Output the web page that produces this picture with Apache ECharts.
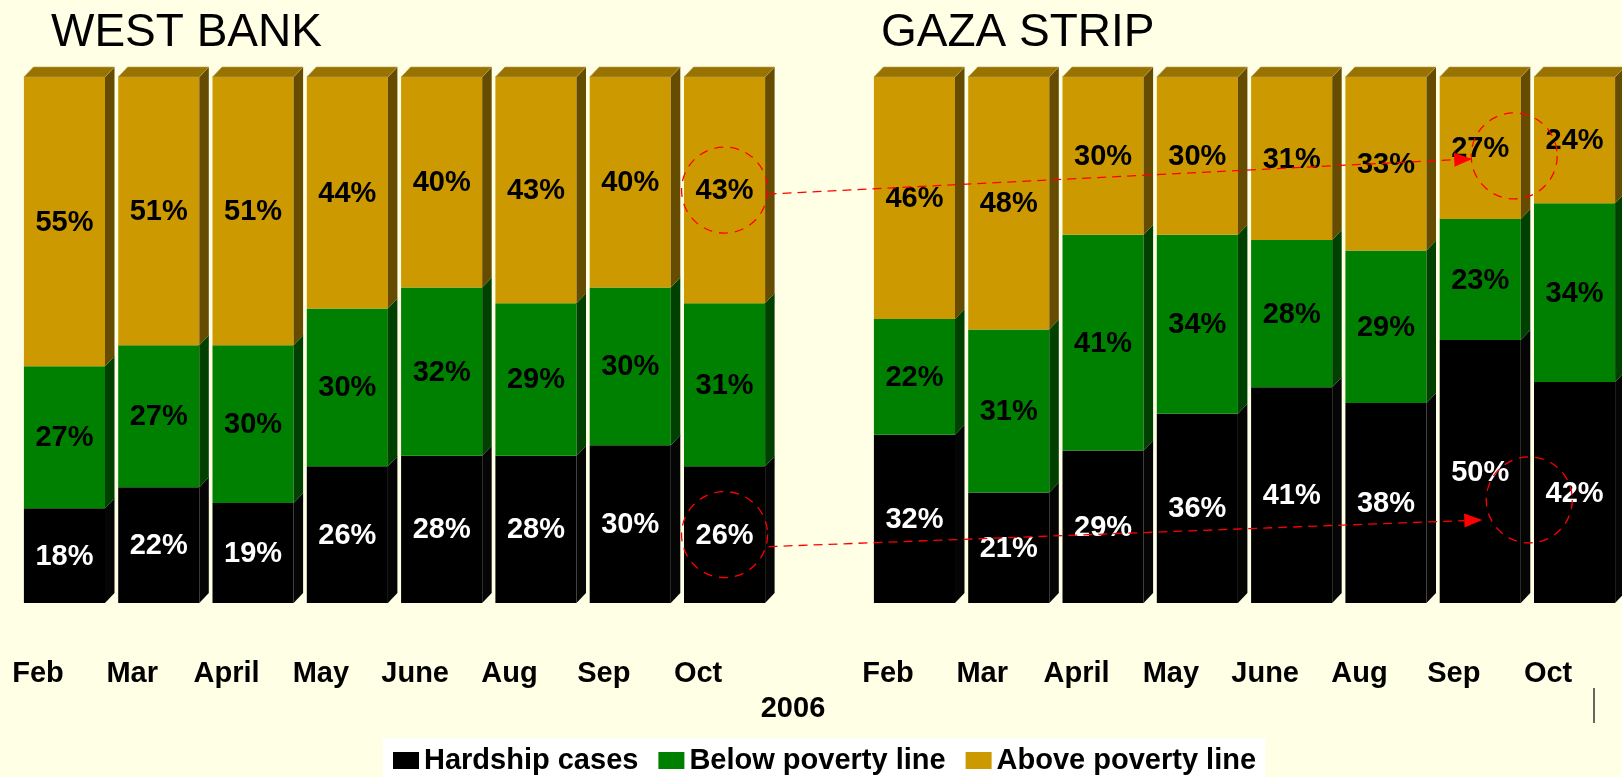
<!DOCTYPE html>
<html>
<head>
<meta charset="utf-8">
<title>West Bank / Gaza Strip 2006</title>
<script src="https://cdn.jsdelivr.net/npm/echarts@6.0.0/dist/echarts.min.js"></script>
<style>
  html, body { margin: 0; padding: 0; background: #FFFFE6; }
  #chart { width: 1622px; height: 777px; }
</style>
</head>
<body>
<div id="chart"></div>
<script>
// months (2006)
const months = ['Feb', 'Mar', 'April', 'May', 'June', 'Aug', 'Sep', 'Oct']

// West Bank, % of households
const wbHardship = [18, 22, 19, 26, 28, 28, 30, 26]
const wbBelow = [27, 27, 30, 30, 32, 29, 30, 31]
const wbAbove = [55, 51, 51, 44, 40, 43, 40, 43]

// Gaza Strip, % of households
const gzHardship = [32, 21, 29, 36, 41, 38, 50, 42]
const gzBelow = [22, 31, 41, 34, 28, 29, 23, 34]
const gzAbove = [46, 48, 30, 30, 31, 33, 27, 24]

const FONT = '"Liberation Sans", Arial, sans-serif'
const DX = 9.5 // depth of the fake 3d
const DY = 10

const styles = {
  'Hardship cases': { front: '#000000', side: '#050505', top: '#333333', text: '#ffffff' },
  'Below poverty line': { front: '#008000', side: '#004000', top: '#006600', text: '#000000' },
  'Above poverty line': { front: '#CC9900', side: '#664C00', top: '#997300', text: '#000000' }
}

// 3d-ish bar segment
function makeRender (st) {
  return function (params, api) {
    const idx = api.value(0)
    const base = api.value(1)
    const val = api.value(2)
    const isTop = api.value(3)
    const p0 = api.coord([idx, base])
    const p1 = api.coord([idx, base + val])
    const w = api.size([1, 0])[0] * 0.86
    const x0 = p0[0] - w / 2
    const x1 = x0 + w
    const children = [
      {
        type: 'rect',
        shape: { x: x0, y: p1[1], width: w, height: p0[1] - p1[1] },
        style: { fill: st.front }
      },
      {
        type: 'polygon',
        shape: { points: [[x1, p0[1]], [x1 + DX, p0[1] - DY], [x1 + DX, p1[1] - DY], [x1, p1[1]]] },
        style: { fill: st.side }
      }
    ]
    if (isTop) {
      children.push({
        type: 'polygon',
        shape: { points: [[x0, p1[1]], [x0 + DX, p1[1] - DY], [x1 + DX, p1[1] - DY], [x1, p1[1]]] },
        style: { fill: st.top, stroke: '#B8A060', lineWidth: 0.6 }
      })
    }
    children.push({
      type: 'text',
      style: {
        text: val + '%',
        x: p0[0],
        y: (p0[1] + p1[1]) / 2 + 1,
        fill: st.text,
        font: 'bold 29px ' + FONT,
        align: 'center',
        verticalAlign: 'middle'
      },
      z2: 10
    })
    return { type: 'group', children: children }
  }
}

function buildSeries (gridIdx, hardship, below, above) {
  const parts = [
    ['Hardship cases', hardship, () => 0, 0],
    ['Below poverty line', below, i => hardship[i], 0],
    ['Above poverty line', above, i => hardship[i] + below[i], 1]
  ]
  return parts.map(([name, arr, baseFn, top]) => ({
    name: name,
    type: 'custom',
    xAxisIndex: gridIdx,
    yAxisIndex: gridIdx,
    itemStyle: { color: styles[name].front },
    renderItem: makeRender(styles[name]),
    encode: { x: 0, y: [1, 2] },
    data: arr.map((v, i) => [i, baseFn(i), v, top])
  }))
}

const axisLabel = {
  fontSize: 29,
  fontWeight: 'bold',
  fontFamily: FONT,
  color: '#000',
  margin: 56,
  padding: [0, 53, 0, 0],
  interval: 0
}

const chart = echarts.init(document.getElementById('chart'))
const option = {
  backgroundColor: '#FFFFE6',
  animation: false,
  title: [
    { text: 'WEST BANK', left: 51, top: 10, padding: 0, textStyle: { fontSize: 46, fontWeight: 'normal', fontFamily: FONT, color: '#000' } },
    { text: 'GAZA STRIP', left: 881, top: 10, padding: 0, textStyle: { fontSize: 46, fontWeight: 'normal', fontFamily: FONT, color: '#000' } }
  ],
  legend: {
    data: ['Hardship cases', 'Below poverty line', 'Above poverty line'],
    left: 383,
    top: 738,
    backgroundColor: '#ffffff',
    padding: [8, 9, 8, 10],
    itemGap: 20,
    itemWidth: 26,
    itemHeight: 17,
    icon: 'rect',
    selectedMode: false,
    textStyle: { fontSize: 29, fontWeight: 'bold', fontFamily: FONT, color: '#000' }
  },
  grid: [
    { left: 17.3, width: 754.4, top: 77, height: 526 },
    { left: 867.3, width: 754.4, top: 77, height: 526 }
  ],
  xAxis: [
    { type: 'category', gridIndex: 0, data: months, axisLine: { show: false }, axisTick: { show: false }, axisLabel: axisLabel },
    { type: 'category', gridIndex: 1, data: months, axisLine: { show: false }, axisTick: { show: false }, axisLabel: axisLabel }
  ],
  yAxis: [
    { type: 'value', gridIndex: 0, min: 0, max: 100, show: false },
    { type: 'value', gridIndex: 1, min: 0, max: 100, show: false }
  ],
  series: [
    ...buildSeries(0, wbHardship, wbBelow, wbAbove),
    ...buildSeries(1, gzHardship, gzBelow, gzAbove)
  ]
}
chart.setOption(option)

// red dashed circles + arrows, placed from the axes
function px (grid, idx, v) {
  const i0 = Math.floor(idx)
  const a = chart.convertToPixel({ gridIndex: grid }, [i0, v])
  if (idx === i0) return a
  const b = chart.convertToPixel({ gridIndex: grid }, [i0 + 1, v])
  const t = idx - i0
  return [a[0] + (b[0] - a[0]) * t, a[1]]
}
const R = 43
const wbTop = px(0, 7, wbHardship[7] + wbBelow[7] + wbAbove[7] / 2)
const wbBot = px(0, 7, wbHardship[7] / 2)
const gzTop = px(1, 6.36, 85)
const gzBot = px(1, 6.52, 19.6)

function circle (c) {
  return {
    type: 'circle',
    shape: { cx: c[0], cy: c[1], r: R },
    style: { fill: 'none', stroke: '#FF0000', lineWidth: 1.3, lineDash: [9, 7] },
    z: 50
  }
}
function arrow (from, to) {
  const ang = Math.atan2(to[1] - from[1], to[0] - from[0])
  const len = 18
  const hw = 7
  const bx = to[0] - len * Math.cos(ang)
  const by = to[1] - len * Math.sin(ang)
  const nx = -Math.sin(ang) * hw
  const ny = Math.cos(ang) * hw
  return [
    {
      type: 'line',
      shape: { x1: from[0], y1: from[1], x2: bx, y2: by },
      style: { stroke: '#FF0000', lineWidth: 1.3, lineDash: [9, 6] },
      z: 50
    },
    {
      type: 'polygon',
      shape: { points: [[to[0], to[1]], [bx + nx, by + ny], [bx - nx, by - ny]] },
      style: { fill: '#FF0000' },
      z: 50
    }
  ]
}

chart.setOption({
  graphic: [
    circle(wbTop),
    circle(wbBot),
    circle(gzTop),
    circle(gzBot),
    ...arrow([wbTop[0] + R, wbTop[1] + 4], [gzTop[0] - R + 1, gzTop[1] + 3]),
    ...arrow([wbBot[0] + R + 1, wbBot[1] + 12], [gzBot[0] - 47, gzBot[1] + 20]),
    {
      type: 'text',
      style: { text: '2006', x: 793, y: 709, align: 'center', verticalAlign: 'middle', font: 'bold 29px ' + FONT, fill: '#000' }
    },
    {
      type: 'line',
      shape: { x1: 1594, y1: 688, x2: 1594, y2: 723 },
      style: { stroke: '#000', lineWidth: 1.2 }
    }
  ]
})
</script>
</body>
</html>
